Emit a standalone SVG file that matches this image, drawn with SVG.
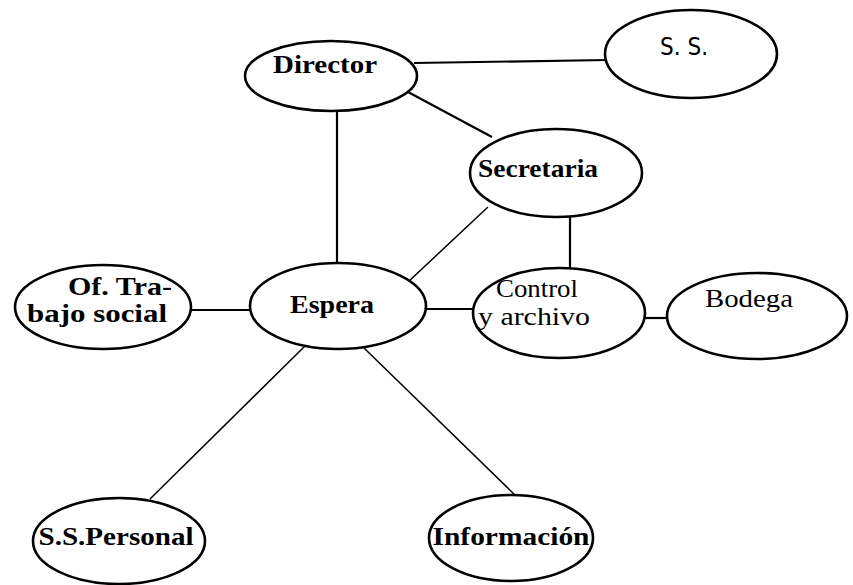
<svg xmlns="http://www.w3.org/2000/svg" width="853" height="585" viewBox="0 0 853 585">
<style>
  .n ellipse { fill: #fff; stroke: #000; stroke-width: 2.6; }
  .n text { font-family: 'Liberation Serif', 'DejaVu Serif', 'Times New Roman', serif; font-size: 26px; fill: #000; text-anchor: middle; }
  .b { font-weight: bold; }
  #edges line { stroke: #000; stroke-width: 2.2; }
  #edges line.thin { stroke-width: 1.5; }
</style>
<rect width="853" height="585" fill="#fff"/>
<g id="edges">
  <line x1="414" y1="63" x2="607" y2="60"/>
  <line x1="408" y1="92" x2="492" y2="137"/>
  <line x1="337" y1="109" x2="337" y2="264"/>
  <line class="thin" x1="488" y1="207" x2="408" y2="282"/>
  <line x1="570" y1="216" x2="570" y2="269"/>
  <line x1="425" y1="309" x2="474" y2="309"/>
  <line x1="190" y1="310" x2="251" y2="310"/>
  <line x1="644" y1="318" x2="668" y2="318"/>
  <line class="thin" x1="305" y1="346" x2="150" y2="499"/>
  <line class="thin" x1="364" y1="348" x2="516" y2="496"/>
</g>
<g id="director" class="n">
  <ellipse cx="331" cy="76" rx="86" ry="35"/>
  <text class="b" x="325" y="73" textLength="104" lengthAdjust="spacingAndGlyphs" font-family="Liberation Serif, DejaVu Serif, serif">Director</text>
</g>
<g id="ss" class="n">
  <ellipse cx="691" cy="54" rx="86" ry="44"/>
  <text x="684" y="55" textLength="48" lengthAdjust="spacingAndGlyphs" style="font-family:'DejaVu Sans','Liberation Sans',sans-serif;font-size:24px">S. S.</text>
</g>
<g id="secretaria" class="n">
  <ellipse cx="556" cy="173" rx="86" ry="44"/>
  <text class="b" x="538" y="177" textLength="120" lengthAdjust="spacingAndGlyphs">Secretaria</text>
</g>
<g id="trabajo-social" class="n">
  <ellipse cx="103" cy="307" rx="88" ry="42"/>
  <text class="b" x="120" y="295" textLength="104" lengthAdjust="spacingAndGlyphs">Of. Tra-</text>
  <text class="b" x="97" y="322" textLength="140" lengthAdjust="spacingAndGlyphs">bajo social</text>
</g>
<g id="espera" class="n">
  <ellipse cx="338" cy="306" rx="88" ry="43"/>
  <text class="b" x="332" y="313" textLength="84" lengthAdjust="spacingAndGlyphs">Espera</text>
</g>
<g id="control" class="n">
  <ellipse cx="559" cy="313" rx="86" ry="45"/>
  <text x="537" y="297" textLength="82" lengthAdjust="spacingAndGlyphs">Control</text>
  <text x="534" y="325" textLength="112" lengthAdjust="spacingAndGlyphs">y archivo</text>
</g>
<g id="bodega" class="n">
  <ellipse cx="757" cy="316" rx="90" ry="43"/>
  <text x="749" y="307" textLength="88" lengthAdjust="spacingAndGlyphs">Bodega</text>
</g>
<g id="ss-personal" class="n">
  <ellipse cx="119" cy="541" rx="86" ry="43"/>
  <text class="b" x="116" y="545" textLength="155" lengthAdjust="spacingAndGlyphs">S.S.Personal</text>
</g>
<g id="informacion" class="n">
  <ellipse cx="511" cy="538" rx="82" ry="43"/>
  <text class="b" x="511" y="545" textLength="157" lengthAdjust="spacingAndGlyphs">Información</text>
</g>
</svg>
